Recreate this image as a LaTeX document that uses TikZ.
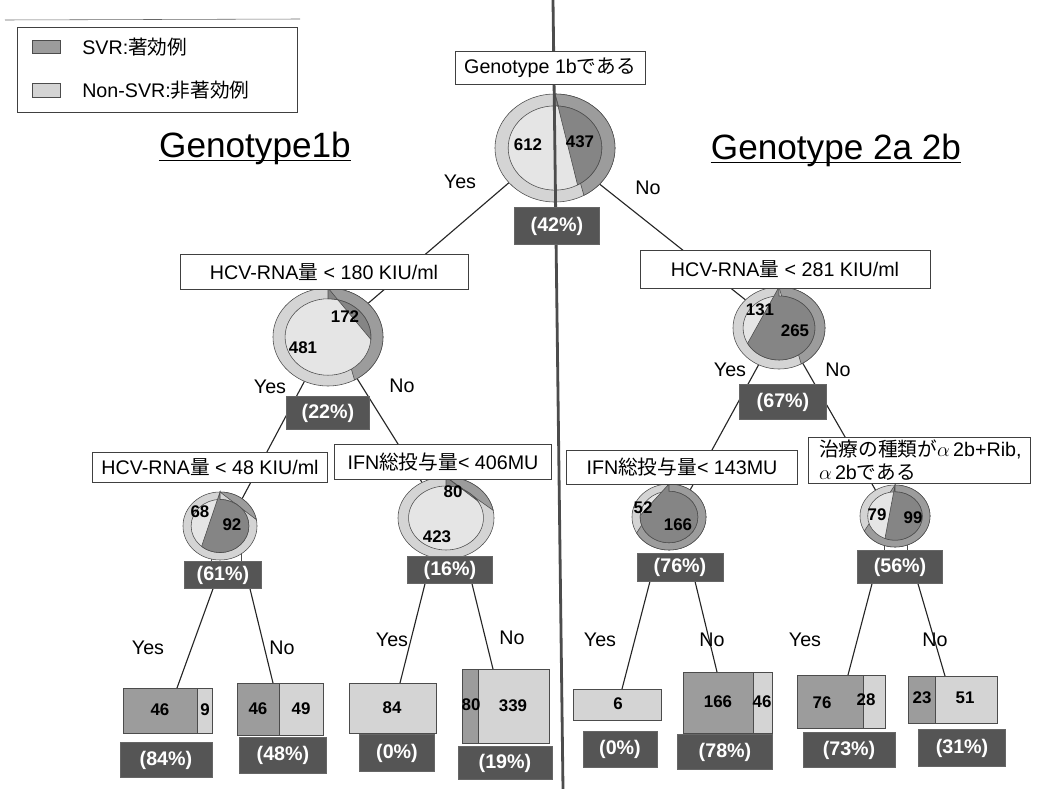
\documentclass[tikz,border=0pt]{standalone}
\usepackage{fontspec}
\setmainfont{Liberation Sans}
\newfontfamily\jp{Noto Sans CJK JP}
\usetikzlibrary{shapes.geometric,backgrounds}
\definecolor{svrgray}{HTML}{9C9C9C}
\definecolor{nonsvrgray}{HTML}{D4D4D4}
\definecolor{pctgray}{HTML}{555555}
\tikzset{
  pienode/.style={ellipse, inner sep=0pt, outer sep=0pt},
  condbox/.style={draw=black!75, fill=white, inner sep=0pt, font=\fontsize{14}{17}\selectfont},
  pctbox/.style={fill=pctgray, draw=black!60, text=white, inner sep=0pt, font=\fontsize{14}{17}\selectfont\bfseries},
  barbox/.style={draw=black!70, inner sep=0pt, outer sep=0pt},
  pienum/.style={font=\fontsize{12}{14}\selectfont\bfseries, inner sep=0pt},
  answer/.style={font=\fontsize{14}{17}\selectfont, inner sep=0pt},
  heading/.style={font=\fontsize{25}{30}\selectfont, inner sep=0pt},
  legendtext/.style={font=\fontsize{14}{17}\selectfont, inner sep=0pt, anchor=west},
  branch/.style={draw=black!85, line width=0.8pt},
}
\begin{document}
\begin{tikzpicture}[x=0.025cm, y=-0.025cm]
        \newcommand{\px}{0.025cm}
        \newcommand{\donut}[5]{%
          \pgfmathsetmacro{\rxin}{0.78*#2}%
          \pgfmathsetmacro{\ryin}{0.78*#3}%
          \filldraw[fill=nonsvrgray, draw=black!70] (#1) ellipse [x radius=#2cm, y radius=#3cm];
          \filldraw[fill=svrgray, draw=black!70] (#1) -- ++(0cm,#3cm) arc [start angle=90, delta angle=-#4*360, x radius=#2cm, y radius=#3cm] -- cycle;
          \filldraw[fill=nonsvrgray!60!white, draw=black!70] (#1) ellipse [x radius=\rxin cm, y radius=\ryin cm];
          \filldraw[fill=svrgray!85!black, draw=black!70] (#1) -- ++(0cm,\ryin cm) arc [start angle=90, delta angle=-#5*360, x radius=\rxin cm, y radius=\ryin cm] -- cycle;
        }
        \useasboundingbox (0,0) rectangle (1047,789);
        \node[pienode, minimum width=3cm, minimum height=2.7cm] (pTop) at (555,148) {};
        \node[pienode, minimum width=2.75cm, minimum height=2.45cm] (pA) at (328,337) {};
        \node[pienode, minimum width=1.85cm, minimum height=1.7cm] (pB) at (220,526) {};
        \node[pienode, minimum width=2.4cm, minimum height=2.05cm] (pC) at (446,518) {};
        \node[pienode, minimum width=2.3cm, minimum height=2.05cm] (pD) at (779,328) {};
        \node[pienode, minimum width=1.85cm, minimum height=1.65cm] (pE) at (669,517) {};
        \node[pienode, minimum width=1.75cm, minimum height=1.55cm] (pF) at (895,516) {};
        \draw[black!70, fill=white] (211,552) rectangle (241,563);
        \draw[black!70, fill=white] (884,542) rectangle (907,551);
        \donut{pTop}{1.5}{1.35}{0.42}{0.42}
        \donut{pA}{1.375}{1.225}{0.42}{0.26}
        \donut{pB}{0.925}{0.85}{0.22}{0.61}
        \donut{pC}{1.2}{1.025}{0.22}{0.16}
        \donut{pD}{1.15}{1.025}{0.42}{0.67}
        \donut{pE}{0.925}{0.825}{0.67}{0.76}
        \donut{pF}{0.875}{0.775}{0.67}{0.56}
        \draw[black!70, line width=2pt] (553,0) -- (563,789);
        \draw[black!60] (5,20) -- (300,19);
        \draw[black!75] (17,27) rectangle (297,112);
        \filldraw[fill=svrgray, draw=black!70] (32,40) rectangle (60,53);
        \filldraw[fill=nonsvrgray, draw=black!70] (32,83) rectangle (60,97);
        \node[legendtext] (lgSvr) at (82,47) {SVR:{\jp 著効例}};
        \node[legendtext] (lgNon) at (82,90) {Non-SVR:{\jp 非著効例}};
        \node[heading] (hLeft) at (255,148) {Genotype1b};
        \draw ([yshift=-2.5pt]hLeft.base west) -- ([yshift=-2.5pt]hLeft.base east);
        \node[heading] (hRight) at (836,150) {Genotype 2a 2b};
        \draw ([yshift=-2.5pt]hRight.base west) -- ([yshift=-2.5pt]hRight.base east);
        \node[condbox, minimum width=190*\px, minimum height=33*\px] (cTop) at (550,68) {Genotype 1b{\jp である}};
        \node[condbox, minimum width=288*\px, minimum height=35*\px] (cLeft) at (324,272) {HCV-RNA{\jp 量} {<} 180 KIU/ml};
        \node[condbox, minimum width=290*\px, minimum height=38*\px] (cRight) at (785,269) {HCV-RNA{\jp 量} {<} 281 KIU/ml};
        \node[condbox, minimum width=235*\px, minimum height=30*\px] (cLL) at (210,467) {HCV-RNA{\jp 量} {<} 48 KIU/ml};
        \node[condbox, minimum width=217*\px, minimum height=35*\px] (cLR) at (443,462) {IFN{\jp 総投与量}{<} 406MU};
        \node[condbox, minimum width=231*\px, minimum height=34*\px] (cRL) at (682,467) {IFN{\jp 総投与量}{<} 143MU};
        \node[condbox, minimum width=222*\px, minimum height=46*\px, align=left, text width=200*\px, font=\fontsize{14}{16}\selectfont] (cRR) at (919,460) {{\jp 治療の種類が}$\alpha$\,2b+Rib,\\$\alpha$\,2b{\jp である}};
        \node[pctbox, minimum width=85*\px, minimum height=37*\px] (pc42) at (557,226) {(42\%)};
        \node[pctbox, minimum width=83*\px, minimum height=33*\px] (pc22) at (328,413) {(22\%)};
        \node[pctbox, minimum width=77*\px, minimum height=27*\px] (pc61) at (223,575) {(61\%)};
        \node[pctbox, minimum width=85*\px, minimum height=27*\px] (pc16) at (450,570) {(16\%)};
        \node[pctbox, minimum width=87*\px, minimum height=35*\px] (pc67) at (783,402) {(67\%)};
        \node[pctbox, minimum width=86*\px, minimum height=28*\px] (pc76) at (680,567) {(76\%)};
        \node[pctbox, minimum width=85*\px, minimum height=33*\px] (pc56) at (900,567) {(56\%)};
        \node[pienum] (nTopN) at (528,145) {612};
        \node[pienum] (nTopS) at (580,142) {437};
        \node[pienum] (nAS) at (345,317) {172};
        \node[pienum] (nAN) at (303,348) {481};
        \node[pienum] (nBN) at (200,512) {68};
        \node[pienum] (nBS) at (232,525) {92};
        \node[pienum] (nCS) at (453,492) {80};
        \node[pienum] (nCN) at (437,537) {423};
        \node[pienum] (nDN) at (760,310) {131};
        \node[pienum] (nDS) at (795,331) {265};
        \node[pienum] (nEN) at (643,508) {52};
        \node[pienum] (nES) at (678,525) {166};
        \node[pienum] (nFN) at (877,515) {79};
        \node[pienum] (nFS) at (913,518) {99};
        \node[barbox, fill=svrgray, minimum width=74*\px, minimum height=45*\px, anchor=north west] (lf1y) at (123,688) {};
        \node[barbox, fill=nonsvrgray, minimum width=15*\px, minimum height=45*\px, anchor=west] (lf1n) at (lf1y.east) {};
        \node[barbox, fill=svrgray, minimum width=42*\px, minimum height=52*\px, anchor=north west] (lf2y) at (237,683) {};
        \node[barbox, fill=nonsvrgray, minimum width=44*\px, minimum height=52*\px, anchor=west] (lf2n) at (lf2y.east) {};
        \node[barbox, fill=nonsvrgray, minimum width=87*\px, minimum height=50*\px, anchor=north west] (lf3n) at (349,683) {};
        \node[barbox, fill=svrgray, minimum width=16*\px, minimum height=74*\px, anchor=north west] (lf4y) at (462,669) {};
        \node[barbox, fill=nonsvrgray, minimum width=71*\px, minimum height=74*\px, anchor=west] (lf4n) at (lf4y.east) {};
        \node[barbox, fill=nonsvrgray, minimum width=88*\px, minimum height=31*\px, anchor=north west] (lf5n) at (573,689) {};
        \node[barbox, fill=svrgray, minimum width=70*\px, minimum height=61*\px, anchor=north west] (lf6y) at (683,672) {};
        \node[barbox, fill=nonsvrgray, minimum width=19*\px, minimum height=61*\px, anchor=west] (lf6n) at (lf6y.east) {};
        \node[barbox, fill=svrgray, minimum width=66*\px, minimum height=53*\px, anchor=north west] (lf7y) at (797,675) {};
        \node[barbox, fill=nonsvrgray, minimum width=22*\px, minimum height=53*\px, anchor=west] (lf7n) at (lf7y.east) {};
        \node[barbox, fill=svrgray, minimum width=27*\px, minimum height=47*\px, anchor=north west] (lf8y) at (908,676) {};
        \node[barbox, fill=nonsvrgray, minimum width=62*\px, minimum height=47*\px, anchor=west] (lf8n) at (lf8y.east) {};
        \node[pienum] (v1y) at (160,710) {46};
        \node[pienum] (v1n) at (205,710) {9};
        \node[pienum] (v2y) at (258,709) {46};
        \node[pienum] (v2n) at (301,709) {49};
        \node[pienum] (v3n) at (392,708) {84};
        \node[pienum] (v4y) at (471,705) {80};
        \node[pienum] (v4n) at (513,706) {339};
        \node[pienum] (v5n) at (618,704) {6};
        \node[pienum] (v6y) at (718,702) {166};
        \node[pienum] (v6n) at (762,702) {46};
        \node[pienum] (v7y) at (822,703) {76};
        \node[pienum] (v7n) at (866,700) {28};
        \node[pienum] (v8y) at (922,698) {23};
        \node[pienum] (v8n) at (965,698) {51};
        \node[pctbox, minimum width=92*\px, minimum height=35*\px] (pc84) at (166,760) {(84\%)};
        \node[pctbox, minimum width=87*\px, minimum height=36*\px] (pc48) at (283,755) {(48\%)};
        \node[pctbox, minimum width=75*\px, minimum height=37*\px] (pc0a) at (397,753) {(0\%)};
        \node[pctbox, minimum width=94*\px, minimum height=33*\px] (pc19) at (505,763) {(19\%)};
        \node[pctbox, minimum width=74*\px, minimum height=36*\px] (pc0b) at (620,749) {(0\%)};
        \node[pctbox, minimum width=95*\px, minimum height=35*\px] (pc78) at (725,752) {(78\%)};
        \node[pctbox, minimum width=92*\px, minimum height=35*\px] (pc73) at (849,750) {(73\%)};
        \node[pctbox, minimum width=87*\px, minimum height=37*\px] (pc31) at (962,748) {(31\%)};
        \node[answer] (aTopY) at (460,182) {Yes};
        \node[answer] (aTopN) at (648,188) {No};
        \node[answer] (aAY) at (270,387) {Yes};
        \node[answer] (aAN) at (402,386) {No};
        \node[answer] (aDY) at (730,370) {Yes};
        \node[answer] (aDN) at (838,370) {No};
        \node[answer] (aBY) at (148,648) {Yes};
        \node[answer] (aBN) at (282,648) {No};
        \node[answer] (aCY) at (392,640) {Yes};
        \node[answer] (aCN) at (512,638) {No};
        \node[answer] (aEY) at (600,640) {Yes};
        \node[answer] (aEN) at (712,640) {No};
        \node[answer] (aFY) at (805,640) {Yes};
        \node[answer] (aFN) at (935,640) {No};
        \begin{pgfonlayer}{background}
          \draw[branch] (pTop.217) -- (pA.40);
          \draw[branch] (pTop.321) -- (pD.140);
          \draw[branch] (pA.242) -- (pB.51);
          \draw[branch] (pA.305) -- (pC.124);
          \draw[branch] (pD.241) -- (pE.52);
          \draw[branch] (pD.304) -- (pF.127);
          \draw[branch] (213,0 |- pc61.south) -- (177,0 |- lf1y.north);
          \draw[branch] (250,0 |- pc61.south) -- (273,0 |- lf2y.north);
          \draw[branch] (425,0 |- pc16.south) -- (400,0 |- lf3n.north);
          \draw[branch] (472,0 |- pc16.south) -- (493,0 |- lf4n.north);
          \draw[branch] (650,0 |- pc76.south) -- (622,0 |- lf5n.north);
          \draw[branch] (695,0 |- pc76.south) -- (717,0 |- lf6y.north);
          \draw[branch] (872,0 |- pc56.south) -- (848,0 |- lf7y.north);
          \draw[branch] (918,0 |- pc56.south) -- (945,0 |- lf8n.north);
        \end{pgfonlayer}
\end{tikzpicture}
\end{document}
